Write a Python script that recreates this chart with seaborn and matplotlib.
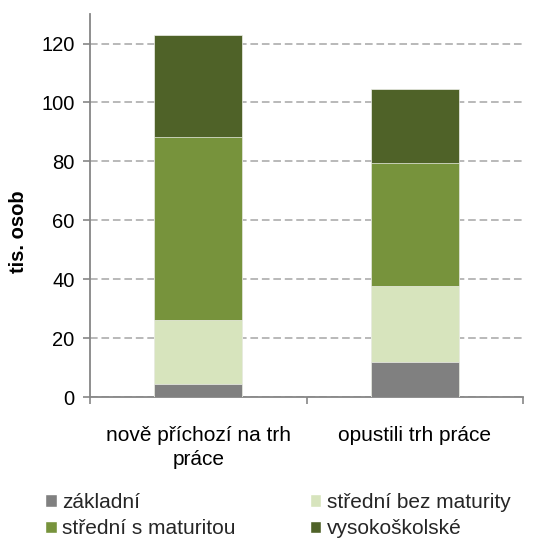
import numpy as np
import pandas as pd
import matplotlib
matplotlib.use('Agg')
import matplotlib.pyplot as plt
import seaborn as sns
from matplotlib.patches import Patch

categories = ['nově příchozí na trh\npráce', 'opustili trh práce']
series = ['základní', 'střední bez maturity', 'střední s maturitou', 'vysokoškolské']
zakladni = [4.3, 11.9]
bez_maturity = [21.9, 25.9]
s_maturitou = [62.2, 41.7]
vysokoskolske = [34.5, 25.0]
colors = ['#808080', '#D7E4BD', '#77933C', '#4F6228']

sns.set_theme(style='white')
plt.rcParams['font.family'] = ['Liberation Sans', 'DejaVu Sans']

values = np.array([zakladni, bez_maturity, s_maturitou, vysokoskolske])
tops = values.cumsum(axis=0)

fig = plt.figure(figsize=(5.35, 5.42), dpi=100)
ax = fig.add_axes([0.168, 0.2675, 0.81, 0.7065])

# stacked bars: draw cumulative totals from the top series down
for i in range(len(series) - 1, -1, -1):
    df = pd.DataFrame({'cat': categories, 'val': tops[i]})
    sns.barplot(data=df, x='cat', y='val', color=colors[i], width=0.405,
                saturation=1, edgecolor='#eef0ea', linewidth=0.5, ax=ax, zorder=3)

ax.set_ylim(0, 130)
ax.set_xlim(-0.5, 1.49)
ax.set_yticks(range(0, 121, 20))
ax.yaxis.grid(True, color='#a6a6a6', linestyle=(0, (5, 2.5)), linewidth=1.1, zorder=0)
ax.set_axisbelow(True)

for s in ['top', 'right']:
    ax.spines[s].set_visible(False)
for s in ['left', 'bottom']:
    ax.spines[s].set_color('#868686')
    ax.spines[s].set_linewidth(1.3)

ax.tick_params(axis='y', which='major', direction='out', length=5, width=1.2,
               color='#868686', left=True, labelsize=14.5, pad=6, labelcolor='black')
ax.tick_params(axis='x', which='major', length=0, labelsize=15, pad=21, labelcolor='black')
for t in ax.get_xticklabels():
    t.set_linespacing(1.3)
ax.set_xticks([-0.5, 0.5, 1.5], minor=True)
ax.tick_params(axis='x', which='minor', direction='out', length=5, width=1.2,
               color='#868686', bottom=True)

ax.set_xlabel('')
ax.set_ylabel('tis. osob', fontsize=14.5, fontweight='bold', color='black')
ax.yaxis.set_label_coords(-0.143, 0.433)

handles = [Patch(facecolor=colors[0]), Patch(facecolor=colors[2]),
           Patch(facecolor=colors[1]), Patch(facecolor=colors[3])]
labels = [series[0], series[2], series[1], series[3]]
fig.legend(handles, labels, ncol=2, loc='lower left', bbox_to_anchor=(0.049, -0.028),
           frameon=False, fontsize=15, handlelength=0.57, handleheight=0.57,
           handletextpad=0.25, columnspacing=3.55, labelspacing=0.38)

fig.savefig('out.png', dpi=100)
